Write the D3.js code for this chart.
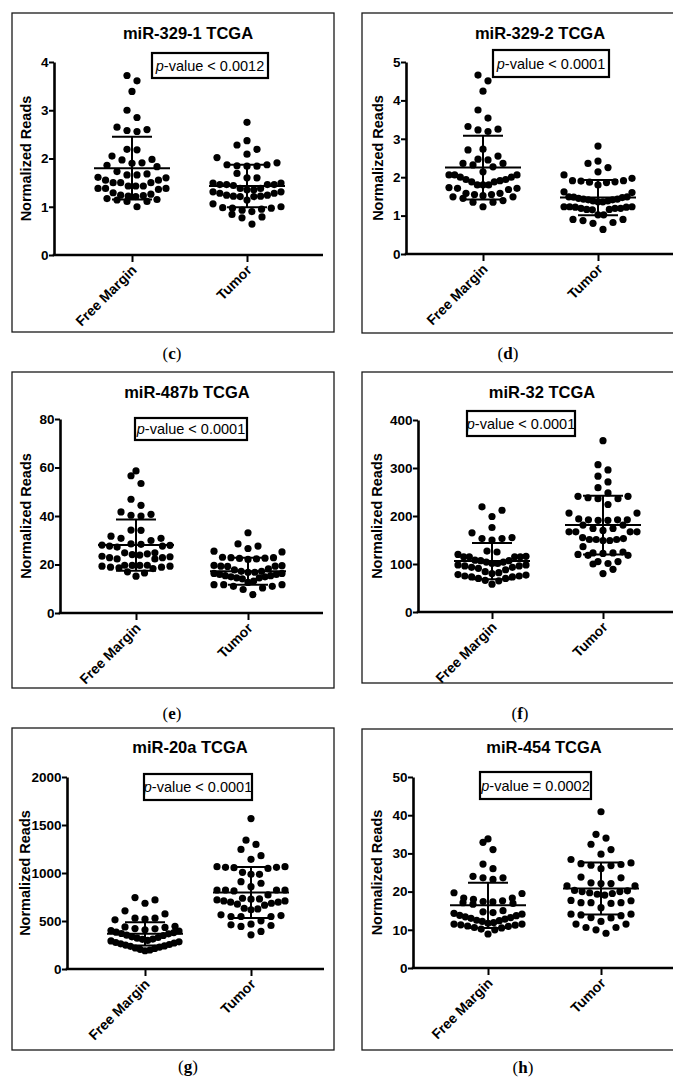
<!DOCTYPE html>
<html>
<head>
<meta charset="utf-8">
<script src="https://cdn.jsdelivr.net/npm/d3@7"></script>
<style>
  body { margin: 0; background: #fff; }
  svg { display: block; font-family: "Liberation Sans", Arial, sans-serif; }
</style>
</head>
<body>
<svg id="chart" width="673" height="1084"></svg>
<script>
// ---- data ----
const categories = ["Free Margin", "Tumor"];
const panelTitles = ["miR-329-1 TCGA", "miR-329-2 TCGA", "miR-487b TCGA", "miR-32 TCGA", "miR-20a TCGA", "miR-454 TCGA"];
const panelLetters = ["c", "d", "e", "f", "g", "h"];
const pValueTexts = ["-value < 0.0012", "-value < 0.0001", "-value < 0.0001", "-value < 0.0001", "-value < 0.0001", "-value = 0.0002"];
const yMax = [4, 5, 80, 400, 2000, 50];
const yStep = [1, 1, 20, 100, 500, 10];

const mir3291FreeMargin = [3.72, 3.61, 3.39, 3.00, 2.85, 2.65, 2.60, 2.58, 2.56, 2.19, 2.18, 2.05, 1.98, 1.97, 1.91, 1.90, 1.86, 1.83,
  1.73, 1.68, 1.66, 1.66, 1.61, 1.60, 1.55, 1.55, 1.50, 1.50, 1.50, 1.43, 1.43, 1.43, 1.38, 1.38, 1.38, 1.36, 1.29, 1.26, 1.24, 1.23,
  1.22, 1.21, 1.17, 1.15, 1.14, 1.11, 1.11, 1.00];
const mir3291Tumor = [2.75, 2.37, 2.28, 2.19, 2.09, 2.02, 1.91, 1.87, 1.87, 1.85, 1.84, 1.84, 1.69, 1.60, 1.60, 1.49, 1.49, 1.46, 1.46,
  1.46, 1.46, 1.44, 1.38, 1.38, 1.35, 1.35, 1.31, 1.31, 1.28, 1.28, 1.24, 1.24, 1.22, 1.22, 1.21, 1.21, 1.14, 1.06, 1.00, 0.98, 0.97,
  0.97, 0.95, 0.93, 0.90, 0.84, 0.79, 0.77, 0.64];

const mir3292FreeMargin = [4.66, 4.51, 4.24, 3.75, 3.54, 3.32, 3.25, 3.23, 3.19, 2.73, 2.71, 2.55, 2.47, 2.45, 2.36, 2.36, 2.32, 2.27,
  2.14, 2.06, 2.06, 2.06, 2.00, 2.00, 1.94, 1.94, 1.91, 1.88, 1.88, 1.80, 1.80, 1.80, 1.73, 1.71, 1.71, 1.68, 1.58, 1.58, 1.55, 1.55,
  1.52, 1.49, 1.49, 1.45, 1.39, 1.35, 1.35, 1.23];
const mir3292Tumor = [2.81, 2.42, 2.36, 2.25, 2.14, 2.06, 1.97, 1.91, 1.91, 1.90, 1.88, 1.87, 1.86, 1.80, 1.62, 1.60, 1.49, 1.49, 1.48,
  1.47, 1.45, 1.43, 1.43, 1.41, 1.41, 1.38, 1.38, 1.36, 1.36, 1.23, 1.23, 1.23, 1.22, 1.22, 1.19, 1.19, 1.19, 1.16, 1.16, 1.15, 1.02,
  1.02, 0.90, 0.90, 0.87, 0.82, 0.80, 0.64];

const mir487bFreeMargin = [58.6, 56.6, 53.4, 46.9, 44.4, 41.7, 40.7, 40.3, 40.0, 34.2, 34.1, 31.7, 30.8, 30.8, 29.9, 28.5, 28.3, 28.0,
  27.9, 27.6, 27.6, 27.2, 24.8, 24.8, 24.4, 24.1, 23.9, 23.4, 23.2, 22.8, 22.8, 22.3, 22.3, 19.7, 19.7, 19.6, 19.6, 19.3, 19.3, 18.9,
  18.9, 18.6, 18.3, 17.0, 16.5, 15.2];
const mir487bTumor = [33.1, 28.5, 27.6, 26.6, 25.5, 25.2, 23.0, 22.8, 22.8, 22.6, 22.5, 22.3, 22.1, 19.6, 19.5, 19.3, 19.3, 19.2, 18.2,
  17.8, 17.2, 17.2, 16.8, 16.8, 16.3, 16.3, 15.9, 15.9, 15.4, 15.4, 14.9, 14.9, 14.5, 14.5, 14.1, 13.2, 12.6, 11.7, 11.7, 11.7, 11.0,
  11.0, 10.3, 9.7, 7.6];

const mir32FreeMargin = [219, 212, 199, 176, 165, 155, 153, 153, 150, 127, 125, 120, 116, 115, 115, 115, 115, 108, 107, 107, 104, 104,
  101, 101, 98, 98, 96, 96, 93, 93, 91, 88, 84, 82, 80, 78, 77, 75, 75, 73, 73, 70, 70, 66, 65, 58];
const mir32Tumor = [357, 307, 296, 283, 271, 259, 248, 241, 241, 238, 236, 236, 224, 206, 206, 194, 192, 192, 192, 191, 191, 181, 181,
  174, 174, 170, 167, 167, 167, 167, 155, 153, 151, 151, 151, 149, 149, 136, 125, 123, 123, 122, 120, 118, 118, 105, 105, 101, 100, 89, 80];

const mir20aFreeMargin = [744, 720, 685, 606, 574, 529, 529, 519, 512, 445, 438, 433, 421, 418, 409, 400, 396, 384, 379, 370, 366, 352,
  349, 335, 328, 321, 312, 309, 298, 292, 283, 276, 271, 262, 255, 249, 240, 236, 228, 219, 214, 205, 198, 190];
const mir20aTumor = [1567, 1342, 1298, 1246, 1180, 1142, 1066, 1066, 1059, 1059, 1055, 1048, 1007, 986, 986, 910, 893, 858, 823, 823,
  823, 823, 813, 772, 737, 730, 727, 720, 709, 709, 696, 696, 685, 675, 665, 633, 626, 616, 564, 557, 547, 547, 547, 502, 467, 460, 453,
  443, 391, 356];

const mir454FreeMargin = [33.8, 32.9, 31.0, 27.2, 26.0, 24.0, 23.6, 23.6, 23.2, 19.7, 19.5, 18.3, 18.3, 18.0, 17.6, 17.4, 17.3, 17.1,
  16.9, 16.7, 15.0, 14.7, 14.5, 14.3, 14.1, 13.8, 13.7, 13.4, 13.2, 13.0, 12.8, 12.5, 12.4, 12.2, 11.9, 11.7, 11.5, 11.5, 11.3, 11.2,
  11.0, 10.9, 10.6, 10.5, 10.2, 10.0, 8.9];
const mir454Tumor = [40.9, 35.0, 34.0, 32.4, 31.0, 29.8, 28.4, 27.5, 27.3, 27.1, 26.9, 26.8, 26.0, 23.8, 23.6, 22.3, 22.1, 22.1, 21.5,
  21.5, 20.3, 20.2, 20.0, 20.0, 19.7, 19.5, 19.3, 19.1, 17.7, 17.6, 17.1, 17.1, 17.1, 16.9, 15.8, 14.1, 14.1, 13.9, 13.7, 13.2, 13.1,
  12.2, 11.5, 11.5, 10.6, 10.6, 10.0, 9.1];

// mean and SD lines as drawn in the figure: [Free Margin, Tumor]
const groupMeans = [[1.80, 1.43], [2.25, 1.47], [28.0, 17.2], [106, 181], [367, 796], [16.4, 20.8]];
const groupSds = [[0.65, 0.44], [0.83, 0.46], [10.6, 5.6], [38, 61], [121, 266], [5.9, 6.8]];

const panelSeries = [
  [mir3291FreeMargin, mir3291Tumor],
  [mir3292FreeMargin, mir3292Tumor],
  [mir487bFreeMargin, mir487bTumor],
  [mir32FreeMargin, mir32Tumor],
  [mir20aFreeMargin, mir20aTumor],
  [mir454FreeMargin, mir454Tumor]
];

// ---- page layout for each panel (pixels) ----
const layout = [
  { box: [12, 13, 334, 332], x0: 54, xEnd: 323, yTop: 62, yBottom: 255, cats: [132, 247], title: [188, 33], pbox: [152, 53, 268, 78], ylabX: 26, letter: [172, 353] },
  { box: [362, 13, 690, 333], x0: 406, xEnd: 673, yTop: 62, yBottom: 254, cats: [483, 598], title: [540, 33], pbox: [493, 50, 609, 77], ylabX: 378, letter: [508, 353] },
  { box: [12, 372, 334, 688], x0: 60, xEnd: 323, yTop: 419, yBottom: 613, cats: [136, 248], title: [187, 392], pbox: [135, 418, 247, 440], ylabX: 26, letter: [172, 713] },
  { box: [362, 372, 690, 683], x0: 418, xEnd: 673, yTop: 420, yBottom: 612, cats: [492, 603], title: [542, 392], pbox: [467, 411, 575, 436], ylabX: 377, letter: [520, 713] },
  { box: [12, 728, 334, 1050], x0: 67, xEnd: 324, yTop: 777, yBottom: 969, cats: [145, 251], title: [190, 747], pbox: [144, 774, 252, 800], ylabX: 25, letter: [188, 1066] },
  { box: [362, 729, 690, 1050], x0: 413, xEnd: 673, yTop: 777, yBottom: 968, cats: [488, 601], title: [544, 747], pbox: [480, 772, 591, 799], ylabX: 377, letter: [523, 1067] }
];

const dotR = 3.6;
const rowH = 10;       // vertical band that shares one row of the swarm
const dotGap = 10;     // horizontal spacing between neighbours
const maxHalf = 34;    // widest a row can spread

// Prism-like column scatter: rows of points, lowest value in the middle
function swarm(values, y, cx) {
  const sorted = values.slice().sort((a, b) => a - b);
  const rows = [];
  let cur = null;
  sorted.forEach(v => {
    if (!cur || y(cur.start) - y(v) > rowH) {
      cur = { start: v, vals: [] };
      rows.push(cur);
    }
    cur.vals.push(v);
  });
  const pts = [];
  rows.forEach(r => {
    const n = r.vals.length;
    const step = n > 1 ? Math.min(dotGap, 2 * maxHalf / (n - 1)) : 0;
    const slots = d3.range(n).map(k => (k - (n - 1) / 2) * step)
      .sort((a, b) => Math.abs(a) - Math.abs(b) || b - a);
    r.vals.forEach((v, k) => pts.push({ v: v, x: cx + slots[k], y: y(v) }));
  });
  return pts;
}

const svg = d3.select("#chart");

layout.forEach((L, i) => {
  const g = svg.append("g");

  g.append("rect")
    .attr("x", L.box[0]).attr("y", L.box[1])
    .attr("width", L.box[2] - L.box[0]).attr("height", L.box[3] - L.box[1])
    .attr("fill", "none").attr("stroke", "#1a1a1a").attr("stroke-width", 1.3);

  const y = d3.scaleLinear().domain([0, yMax[i]]).range([L.yBottom, L.yTop]);
  const x = d3.scalePoint().domain(categories).range(L.cats);

  // y axis
  const yAx = g.append("g")
    .attr("transform", `translate(${L.x0},0)`)
    .call(d3.axisLeft(y)
      .tickValues(d3.range(0, yMax[i] + yStep[i] / 2, yStep[i]))
      .tickFormat(d => String(d))
      .tickSize(5).tickSizeOuter(0).tickPadding(0.5));
  yAx.select(".domain").attr("stroke", "#000").attr("stroke-width", 2.6);
  yAx.selectAll(".tick line").attr("stroke", "#000").attr("stroke-width", 2);
  yAx.selectAll(".tick text")
    .attr("fill", "#000").style("font-size", "13.5px").style("font-weight", "bold")
    .style("font-family", "'Liberation Sans', Arial, sans-serif");

  // x axis
  g.append("line")
    .attr("x1", L.x0 - 1.3).attr("x2", L.xEnd)
    .attr("y1", L.yBottom).attr("y2", L.yBottom)
    .attr("stroke", "#000").attr("stroke-width", 2.6);
  const xAx = g.append("g")
    .attr("transform", `translate(0,${L.yBottom})`)
    .call(d3.axisBottom(x).tickSize(7).tickSizeOuter(0));
  xAx.select(".domain").remove();
  xAx.selectAll(".tick line").attr("stroke", "#000").attr("stroke-width", 2);
  xAx.selectAll(".tick text")
    .attr("x", 0).attr("y", 0).attr("dy", 0)
    .attr("transform", "translate(5,16) rotate(-45)")
    .style("text-anchor", "end")
    .attr("fill", "#000").style("font-size", "14px").style("font-weight", "bold")
    .style("font-family", "'Liberation Sans', Arial, sans-serif");

  // dots
  panelSeries[i].forEach((vals, j) => {
    const pts = swarm(vals, y, x(categories[j]));
    g.append("g").selectAll("circle")
      .data(pts).join("circle")
      .attr("cx", d => d.x).attr("cy", d => d.y).attr("r", dotR)
      .attr("fill", "#000");
  });

  // mean +/- SD
  categories.forEach((c, j) => {
    const cx = x(c), m = groupMeans[i][j], s = groupSds[i][j];
    const lg = g.append("g").attr("stroke", "#000").attr("stroke-width", 2);
    lg.append("line").attr("x1", cx - 38).attr("x2", cx + 38).attr("y1", y(m)).attr("y2", y(m));
    lg.append("line").attr("x1", cx).attr("x2", cx).attr("y1", y(m - s)).attr("y2", y(m + s));
    [m - s, m + s].forEach(v => {
      lg.append("line").attr("x1", cx - 20).attr("x2", cx + 20).attr("y1", y(v)).attr("y2", y(v));
    });
  });

  // axis title
  g.append("text")
    .attr("transform", `translate(${L.ylabX},${(L.yTop + L.yBottom) / 2}) rotate(-90)`)
    .attr("dy", "0.35em").attr("text-anchor", "middle")
    .style("font-size", "14.5px").style("font-weight", "bold")
    .text("Normalized Reads");

  // chart title
  g.append("text")
    .attr("x", L.title[0]).attr("y", L.title[1]).attr("dy", "0.35em")
    .attr("text-anchor", "middle")
    .style("font-size", "16.5px").style("font-weight", "bold")
    .text(panelTitles[i]);

  // p-value box
  const pb = L.pbox;
  g.append("rect")
    .attr("x", pb[0]).attr("y", pb[1]).attr("width", pb[2] - pb[0]).attr("height", pb[3] - pb[1])
    .attr("fill", "#fff").attr("stroke", "#000").attr("stroke-width", 2.2);
  const pt = g.append("text")
    .attr("x", (pb[0] + pb[2]) / 2).attr("y", (pb[1] + pb[3]) / 2).attr("dy", "0.36em")
    .attr("text-anchor", "middle").style("font-size", "14.5px");
  pt.append("tspan").style("font-style", "italic").text("p");
  pt.append("tspan").text(pValueTexts[i]);

  // panel letter
  const lt = g.append("text")
    .attr("x", L.letter[0]).attr("y", L.letter[1]).attr("dy", "0.35em")
    .attr("text-anchor", "middle")
    .style("font-family", "'Liberation Serif', 'DejaVu Serif', serif").style("font-size", "17px");
  lt.append("tspan").text("(");
  lt.append("tspan").style("font-weight", "bold").text(panelLetters[i]);
  lt.append("tspan").text(")");
});
</script>
</body>
</html>
